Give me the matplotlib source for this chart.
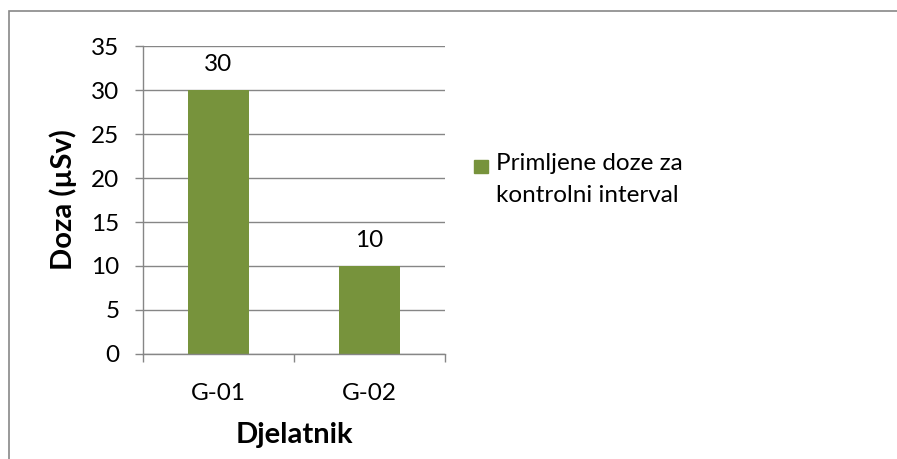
import matplotlib
matplotlib.use('Agg')
from matplotlib import pyplot as plt
from matplotlib.patches import Rectangle

# dose per worker
workers = ['G-01', 'G-02']
doses = [30, 10]
series_name = 'Primljene doze za\nkontrolni interval'

plt.rcParams['font.family'] = ['Lato', 'DejaVu Sans']
grey = '#868686'
green = '#77933C'
fs = 17.5

fig = plt.figure(figsize=(8.97, 4.59), dpi=100)
ax = fig.add_axes([143 / 897, 1 - 354 / 459, 302 / 897, 308 / 459])

x = list(range(len(workers)))
bars = ax.bar(x, doses, width=0.4, color=green, zorder=3, label=series_name)
for xi, v in zip(x, doses):
    ax.annotate(str(v), (xi, v), xytext=(0, 14), textcoords='offset points',
                ha='center', va='baseline', fontsize=fs)

ax.set_xlim(-0.5, len(workers) - 0.5)
ax.set_ylim(0, 35)
ax.set_yticks(range(0, 36, 5))
ax.set_xticks(x)
ax.set_xticklabels(workers)
ax.set_xticks([i - 0.5 for i in range(len(workers) + 1)], minor=True)
ax.tick_params(axis='x', which='major', length=0, pad=21, labelsize=fs)
ax.tick_params(axis='x', which='minor', length=6, color=grey, width=1)
ax.tick_params(axis='y', length=6, color=grey, width=1, pad=11, labelsize=fs)

ax.yaxis.grid(True, color=grey, linewidth=1, zorder=0)
for s in ['top', 'right']:
    ax.spines[s].set_visible(False)
for s in ['left', 'bottom']:
    ax.spines[s].set_color(grey)
    ax.spines[s].set_linewidth(1)
ax.spines['bottom'].set_zorder(4)

ax.set_xlabel('Djelatnik', fontsize=21, fontweight='bold', labelpad=13)
ax.set_ylabel('Doza (µSv)', fontsize=21, fontweight='bold', labelpad=10)

# legend: colour square beside the two-line series name
fig.patches.append(Rectangle((474 / 897, 1 - 173 / 459), 14 / 897, 13 / 459,
                             transform=fig.transFigure,
                             color=bars.patches[0].get_facecolor()))
fig.text(496 / 897, 1 - 153 / 459, series_name, fontsize=fs,
         ha='left', va='top', linespacing=1.65,
         transform=fig.transFigure)

# chart border
fig.patches.append(Rectangle((9 / 897, -0.1), 1.2, 1 - 11 / 459 + 0.1,
                             transform=fig.transFigure, fill=False,
                             edgecolor='#878787', linewidth=1.2))

fig.savefig('out.png', dpi=100)
